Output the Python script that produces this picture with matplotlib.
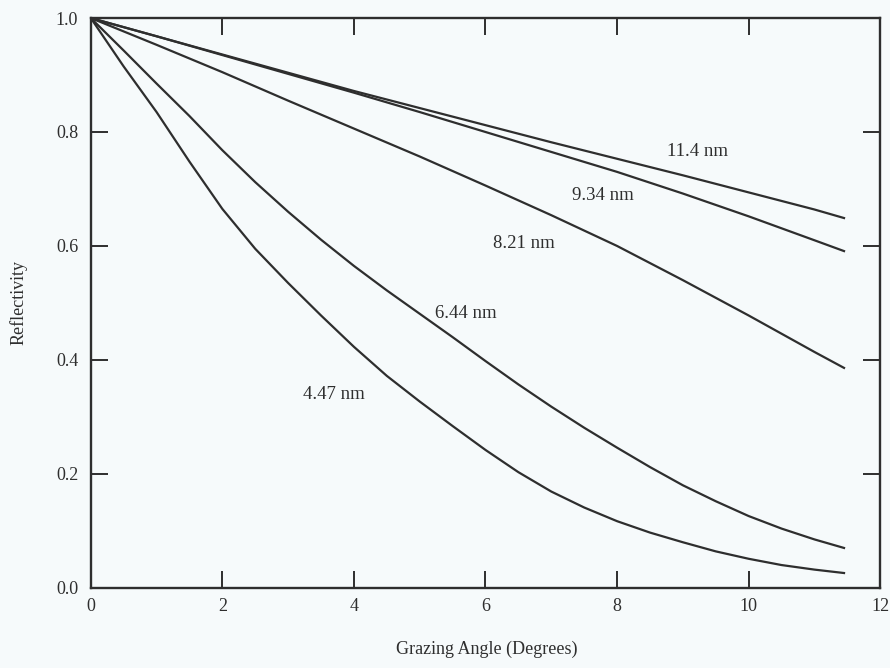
import numpy as np
import matplotlib
matplotlib.use('Agg')
import matplotlib.pyplot as plt

plt.rcParams['font.family'] = ['Liberation Serif', 'DejaVu Serif']

# grazing angle (degrees)
angle_fine = [0, 0.5, 1, 1.5, 2, 2.5, 3, 3.5, 4, 4.5, 5, 5.5, 6, 6.5, 7, 7.5,
              8, 8.5, 9, 9.5, 10, 10.5, 11, 11.45]
angle_coarse = [0, 1, 2, 3, 4, 5, 6, 7, 8, 9, 10, 11, 11.45]

# reflectivity
refl_447 = [1.0, 0.915, 0.835, 0.748, 0.665, 0.595, 0.535, 0.478, 0.423, 0.372,
            0.327, 0.284, 0.242, 0.203, 0.169, 0.141, 0.117, 0.097, 0.080,
            0.064, 0.051, 0.040, 0.032, 0.026]
refl_644 = [1.0, 0.943, 0.885, 0.828, 0.768, 0.712, 0.66, 0.611, 0.565, 0.522,
            0.481, 0.44, 0.398, 0.357, 0.318, 0.281, 0.246, 0.212, 0.18, 0.152,
            0.126, 0.104, 0.085, 0.070]
refl_821 = [1.0, 0.953, 0.905, 0.855, 0.806, 0.757, 0.706, 0.654, 0.600, 0.54,
            0.478, 0.414, 0.386]
refl_934 = [1.0, 0.968, 0.935, 0.902, 0.869, 0.835, 0.80, 0.765, 0.73, 0.692,
            0.652, 0.61, 0.591]
refl_114 = [1.0, 0.968, 0.936, 0.904, 0.872, 0.842, 0.812, 0.782, 0.753, 0.724,
            0.694, 0.664, 0.649]

labels = ['11.4 nm', '9.34 nm', '8.21 nm', '6.44 nm', '4.47 nm']
label_pos = [(9.23, 0.765), (7.79, 0.688), (6.58, 0.605), (5.7, 0.482), (3.7, 0.339)]

ink = '#2e2e2e'
bg = '#f6fafb'

fig = plt.figure(figsize=(8.9, 6.68), dpi=100, facecolor=bg)
ax = fig.add_axes([0.102, 0.120, 0.887, 0.853], facecolor=bg)

ax.plot(angle_coarse, refl_114, color=ink, lw=1.6)
ax.plot(angle_coarse, refl_934, color=ink, lw=1.6)
ax.plot(angle_coarse, refl_821, color=ink, lw=1.6)
ax.plot(angle_fine, refl_644, color=ink, lw=1.6)
ax.plot(angle_fine, refl_447, color=ink, lw=1.6)

for txt, (x, y) in zip(labels, label_pos):
    ax.text(x, y, txt, ha='center', va='center', fontsize=13.5, color=ink)

ax.set_xlim(0, 12)
ax.set_ylim(0, 1.0)
ax.set_xticks(np.arange(0, 13, 2))
ax.set_yticks(np.arange(0, 1.01, 0.2))
ax.set_yticklabels(['0.0', '0.2', '0.4', '0.6', '0.8', '1.0'])
ax.tick_params(direction='in', length=12, width=1.4, color=ink, labelcolor=ink,
               labelsize=13, top=True, right=True)
ax.tick_params(axis='x', pad=7)
ax.tick_params(axis='y', pad=9)
for s in ax.spines.values():
    s.set_color(ink)
    s.set_linewidth(1.7)

ax.set_xlabel('Grazing Angle (Degrees)', fontsize=13, color=ink)
ax.set_ylabel('Reflectivity', fontsize=13, color=ink)
ax.xaxis.set_label_coords(0.502, -0.093)
ax.yaxis.set_label_coords(-0.080, 0.5)

fig.savefig('out.png', dpi=100, facecolor=bg)
